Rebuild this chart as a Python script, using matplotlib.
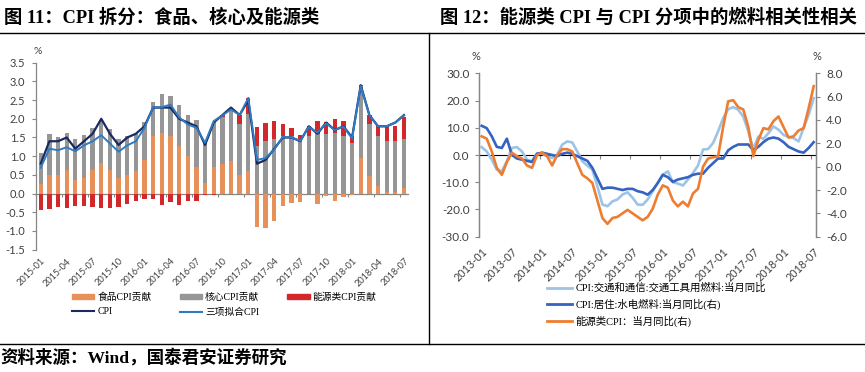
import matplotlib
matplotlib.use('Agg')
import matplotlib.pyplot as plt
from matplotlib.lines import Line2D
from matplotlib.patches import Patch
import numpy as np
import pandas as pd

# ---------------- data: left chart (figure 11) ----------------
months_l = pd.date_range('2015-01', '2018-07', freq='MS').strftime('%Y-%m').tolist()
food = [0.27, 0.50, 0.50, 0.62, 0.37, 0.42, 0.62, 0.82, 0.62, 0.42, 0.50, 0.60,
        0.90, 1.53, 1.62, 1.55, 1.27, 1.00, 0.71, 0.28, 0.70, 0.78, 0.87, 0.51,
        0.60, -0.90, -0.93, -0.72, -0.33, -0.24, -0.22, -0.02, -0.28, -0.06, -0.21, -0.08,
        -0.05, 0.96, 0.46, 0.20, 0.05, 0.05, 0.14]
core = [0.82, 1.10, 1.02, 1.00, 1.08, 1.16, 1.14, 1.16, 1.10, 1.03, 1.05, 1.00,
        1.01, 0.93, 1.03, 1.07, 1.10, 1.09, 1.26, 1.08, 1.21, 1.27, 1.36, 1.34,
        1.52, 1.27, 1.40, 1.45, 1.54, 1.54, 1.45, 1.55, 1.60, 1.60, 1.62, 1.55,
        1.34, 1.92, 1.39, 1.34, 1.35, 1.35, 1.31]
energy = [-0.44, -0.42, -0.37, -0.38, -0.33, -0.33, -0.37, -0.39, -0.39, -0.35, -0.28, -0.20,
          -0.14, -0.15, -0.30, -0.23, -0.30, -0.21, -0.20, -0.03, -0.03, 0.05, 0.02, 0.24,
          0.44, 0.52, 0.48, 0.50, 0.31, 0.21, 0.12, 0.27, 0.33, 0.31, 0.38, 0.39,
          0.20, 0.02, 0.24, 0.26, 0.39, 0.42, 0.60]
cpi = [0.8, 1.4, 1.4, 1.5, 1.2, 1.4, 1.6, 2.0, 1.6, 1.3, 1.5, 1.6,
       1.8, 2.3, 2.3, 2.3, 2.0, 1.9, 1.8, 1.3, 1.9, 2.1, 2.3, 2.1,
       2.5, 0.8, 0.9, 1.2, 1.5, 1.5, 1.4, 1.8, 1.6, 1.9, 1.7, 1.8,
       1.5, 2.9, 2.1, 1.8, 1.8, 1.9, 2.1]
fit = [0.69, 1.20, 1.16, 1.24, 1.13, 1.29, 1.40, 1.56, 1.34, 1.12, 1.29, 1.40,
       1.76, 2.31, 2.31, 2.38, 2.04, 1.85, 1.76, 1.36, 1.94, 2.09, 2.25, 2.10,
       2.56, 0.90, 0.95, 1.18, 1.52, 1.50, 1.41, 1.78, 1.63, 1.88, 1.70, 1.79,
       1.48, 2.88, 2.09, 1.80, 1.80, 1.90, 2.09]
yticks_l = [-1.5, -1.0, -0.5, 0.0, 0.5, 1.0, 1.5, 2.0, 2.5, 3.0, 3.5]

# ---------------- data: right chart (figure 12) ----------------
months_r = pd.date_range('2013-01', '2018-07', freq='MS').strftime('%Y-%m').tolist()
transport_fuel = [2.9, 1.3, -1.7, -5.4, -6.0, -2.3, 2.6, 2.9, 1.3, -1.7, -2.3, 0.7,
                  0.5, -0.5, -1.1, 0.1, 3.8, 5.0, 4.6, 1.3, -2.3, -3.9, -5.4, -11.5,
                  -18.2, -18.8, -17.0, -16.3, -14.5, -13.7, -15.7, -18.2, -18.3, -16.3, -13.3, -10.2,
                  -7.2, -6.0, -10.0, -10.5, -11.2, -9.0, -6.6, -3.9, 2.0, 2.2, 4.4, 8.7,
                  13.5, 16.8, 17.6, 16.6, 14.1, 8.7, 2.2, 6.8, 5.9, 8.0, 10.5, 9.3,
                  7.4, 6.6, 6.2, 5.0, 9.9, 14.8, 20.9]
housing_fuel = [3.5, 3.3, 2.6, 1.7, 1.6, 2.4, 1.0, 0.7, 0.6, 0.5, 0.4, 1.1,
                1.2, 1.1, 1.0, 0.9, 1.1, 1.2, 1.1, 0.9, 0.7, 0.5, -0.1, -1.0,
                -1.9, -1.8, -1.8, -1.9, -2.0, -1.9, -1.9, -2.1, -2.2, -2.4, -2.0, -1.4,
                -0.7, -0.9, -1.3, -1.1, -1.0, -0.9, -0.7, -0.6, -0.6, -0.1, 0.3, 0.7,
                0.7, 1.4, 1.7, 1.9, 1.9, 1.9, 1.4, 1.7, 2.1, 2.4, 2.5, 2.4,
                2.1, 1.7, 1.5, 1.3, 1.2, 1.6, 2.1]
energy_cpi = [2.6, 2.4, 1.3, -0.1, -0.7, 0.4, 1.2, 0.9, 0.7, 0.1, -0.1, 1.0,
              1.2, 0.9, 0.1, 1.0, 1.5, 1.5, 1.3, 0.3, -0.7, -1.0, -1.4, -2.9,
              -4.4, -4.9, -4.4, -4.3, -4.0, -3.7, -4.0, -4.3, -4.6, -4.3, -3.6, -2.4,
              -1.6, -1.8, -2.9, -3.4, -3.0, -3.4, -2.3, -1.9, 0.0, 0.7, 0.8, 0.9,
              3.4, 5.6, 5.7, 5.1, 4.9, 3.4, 0.9, 2.3, 3.3, 3.2, 3.9, 4.3,
              3.4, 2.5, 2.6, 3.1, 3.3, 5.0, 6.9]
yticks_rl = [-30, -20, -10, 0, 10, 20, 30]
yticks_rr = [-6, -4, -2, 0, 2, 4, 6, 8]

# ---------------- styling ----------------
W, H = 865, 372
SERIF_CJK = ['Liberation Serif', 'Noto Sans CJK SC']
NUM = ['Lato', 'DejaVu Sans']
AXC = '#868686'
TXT = '#404040'

c_food, c_core, c_energy = '#E8905A', '#969696', '#D2282C'
c_cpi, c_fit = '#1B2A5E', '#2E7BC4'
c_tf, c_hf, c_en = '#9DC3E6', '#3563C0', '#EE7D31'

fig = plt.figure(figsize=(W / 100, H / 100), dpi=100)
fig.patch.set_facecolor('white')


def rect(x0, y0, x1, y1):
    return [x0 / W, 1 - y1 / H, (x1 - x0) / W, (y1 - y0) / H]


def fline(x0, y0, x1, y1, lw=1.0):
    fig.add_artist(Line2D([x0 / W, x1 / W], [1 - y0 / H, 1 - y1 / H],
                          color='black', lw=lw, transform=fig.transFigure))


# frame lines
fline(0, 32.5, W, 32.5)
fline(428.5, 32.5, 428.5, 343.5)
fline(0, 343.5, W, 343.5)

# titles
fig.text(4 / W, 1 - 18 / H, '图 11：CPI 拆分：食品、核心及能源类', family=SERIF_CJK,
         weight='bold', fontsize=13.2, va='center', ha='left')
fig.text(440 / W, 1 - 18 / H, '图 12：能源类 CPI 与 CPI 分项中的燃料相关性相关', family=SERIF_CJK,
         weight='bold', fontsize=13.2, va='center', ha='left')
fig.text(0 / W, 1 - 358 / H, '资料来源：Wind，国泰君安证券研究', family=SERIF_CJK,
         weight='bold', fontsize=12.6, va='center', ha='left')

# ---------------- left chart ----------------
ax = fig.add_axes(rect(36.4, 62.7, 408.3, 249.7))
x = np.arange(len(months_l))
pos_base = np.zeros(len(x))
neg_base = np.zeros(len(x))
for vals, col in [(food, c_food), (core, c_core), (energy, c_energy)]:
    v = np.array(vals)
    base = np.where(v >= 0, pos_base, neg_base)
    ax.bar(x, v, 0.5, bottom=base, color=col, zorder=2, linewidth=0)
    pos_base = pos_base + np.where(v >= 0, v, 0)
    neg_base = neg_base + np.where(v < 0, v, 0)
ax.plot(x, cpi, color=c_cpi, lw=1.6, zorder=3)
ax.plot(x, fit, color=c_fit, lw=1.4, zorder=4)

ax.set_xlim(-0.5, len(x) - 0.5)
ax.set_ylim(-1.5, 3.5)
ax.set_yticks(yticks_l)
ax.set_yticklabels([f'{v:.1f}' for v in yticks_l], family=NUM, fontsize=8, color=TXT)
ax.set_xticks(x[::3])
ax.set_xticklabels(months_l[::3], rotation=45, ha='right', va='top',
                   rotation_mode='anchor', family=NUM, fontsize=6.6, color=TXT)
ax.tick_params(axis='x', length=0, pad=5)
ax.tick_params(axis='y', length=3, color=AXC, width=0.8, pad=5)
for s in ['top', 'right', 'bottom']:
    ax.spines[s].set_visible(False)
ax.spines['left'].set_color(AXC)
ax.spines['left'].set_linewidth(0.9)
zx = ax.secondary_xaxis(0.3)
zx.set_xticks(np.arange(-0.5, len(x), 3))
zx.tick_params(length=2, color=AXC, labelbottom=False, labeltop=False, direction='out')
zx.spines['bottom'].set_color(AXC)
zx.spines['bottom'].set_linewidth(0.9)
zx.set_xticklabels([])
ax.text(-0.35, 3.8, '%', family=NUM, fontsize=7.5, color=TXT, ha='center', va='center')

handles = [Patch(color=c_food), Line2D([], [], color=c_cpi, lw=1.5),
           Patch(color=c_core), Line2D([], [], color=c_fit, lw=1.5),
           Patch(color=c_energy)]
labels = ['食品CPI贡献', 'CPI', '核心CPI贡献', '三项拟合CPI', '能源类CPI贡献']
leg = ax.legend(handles, labels, ncol=3, loc='upper left',
                bbox_to_anchor=(72 / W, 1 - 292 / H), bbox_transform=fig.transFigure,
                frameon=False, prop={'family': SERIF_CJK, 'size': 7},
                handlelength=2.3, handleheight=0.45, handletextpad=0.3,
                columnspacing=2.9, labelspacing=0.6, borderaxespad=0, borderpad=0)

# ---------------- right chart ----------------
axl = fig.add_axes(rect(479.2, 73.3, 816.2, 236.7))
axr = axl.twinx()
xr = np.arange(len(months_r))
axl.plot(xr, transport_fuel, color=c_tf, lw=1.9, zorder=3, solid_joinstyle='round')
axr.plot(xr, housing_fuel, color=c_hf, lw=1.9, zorder=3, solid_joinstyle='round')
axr.plot(xr, energy_cpi, color=c_en, lw=1.9, zorder=4, solid_joinstyle='round')

axl.set_xlim(-0.5, len(xr) - 0.5)
axl.set_ylim(-30, 30)
axr.set_ylim(-6, 8)
axl.set_yticks(yticks_rl)
axl.set_yticklabels([f'{v:.1f}' for v in yticks_rl], family=NUM, fontsize=8.5, color=TXT)
axr.set_yticks(yticks_rr)
axr.set_yticklabels([f'{v:.1f}' for v in yticks_rr], family=NUM, fontsize=8.5, color=TXT)
axl.set_xticks(xr[::6])
axl.set_xticklabels(months_r[::6], rotation=45, ha='right', va='top',
                    rotation_mode='anchor', family=NUM, fontsize=7.8, color=TXT)
axl.tick_params(axis='x', length=0, pad=7)
axl.tick_params(axis='y', length=3, color=AXC, width=0.8, pad=4)
axr.tick_params(axis='y', length=3, color=AXC, width=0.8, pad=4)
for a in (axl, axr):
    for s in ['top', 'bottom']:
        a.spines[s].set_visible(False)
    a.spines['left'].set_color(AXC)
    a.spines['right'].set_color(AXC)
    a.spines['left'].set_linewidth(0.9)
    a.spines['right'].set_linewidth(0.9)
zr = axl.secondary_xaxis(0.5)
zr.set_xticks(np.arange(5.5, len(xr), 6))
zr.set_xticklabels([])
zr.tick_params(length=3, color=AXC, direction='in')
zr.spines['bottom'].set_color(AXC)
zr.spines['bottom'].set_linewidth(0.9)
axl.text(-1.2, 36.3, '%', family=NUM, fontsize=8, color=TXT, ha='center', va='center')
axr.text(len(xr) - 0.4, 9.4, '%', family=NUM, fontsize=8, color=TXT, ha='center', va='center')

rh = [Line2D([], [], color=c_tf, lw=2), Line2D([], [], color=c_hf, lw=2),
      Line2D([], [], color=c_en, lw=2)]
rl = ['CPI:交通和通信:交通工具用燃料:当月同比', 'CPI:居住:水电燃料:当月同比(右)',
      '能源类CPI：当月同比(右)']
axl.legend(rh, rl, loc='upper left', bbox_to_anchor=(547 / W, 1 - 283 / H),
           bbox_transform=fig.transFigure, frameon=False,
           prop={'family': SERIF_CJK, 'size': 7.5}, handlelength=2.4,
           handletextpad=0.3, labelspacing=0.55, borderaxespad=0, borderpad=0)

fig.savefig('out.png', dpi=100, facecolor='white')
